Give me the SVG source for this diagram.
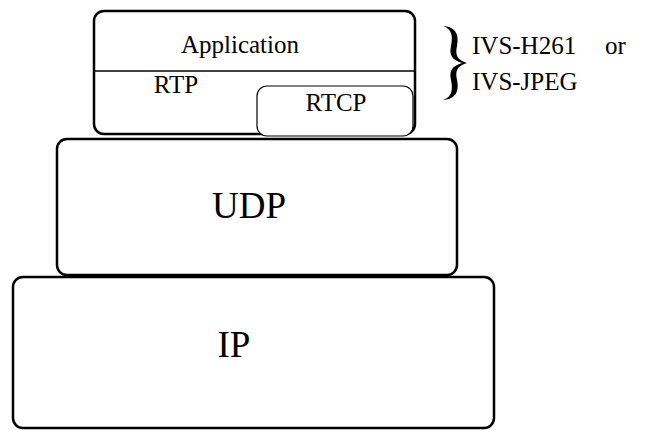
<svg xmlns="http://www.w3.org/2000/svg" width="647" height="430" viewBox="0 0 647 430" font-family="Liberation Serif">
<style>
.box{fill:#fff;stroke:#000;stroke-width:2.5}
.thin{fill:#fff;stroke:#000;stroke-width:1.2}
</style>
<rect width="647" height="430" fill="#fff"/>
<g id="ip"><rect class="box" x="13" y="277" width="481" height="151" rx="10"/><text font-family="Liberation Serif" text-anchor="middle" x="234" y="357" font-size="37">IP</text></g>
<g id="udp"><rect class="box" x="57" y="139" width="400" height="136" rx="10"/><text font-family="Liberation Serif" text-anchor="middle" x="249" y="218" font-size="37">UDP</text></g>
<g id="top"><rect class="box" x="94" y="11" width="321" height="123" rx="10"/>
<line x1="95" y1="71" x2="414" y2="71" stroke="#000" stroke-width="1.5"/>
<text font-family="Liberation Serif" text-anchor="middle" x="240" y="53" font-size="25">Application</text>
<text font-family="Liberation Serif" text-anchor="middle" x="176" y="93" font-size="25">RTP</text></g>
<g id="rtcp"><rect class="thin" x="257" y="86" width="156" height="50" rx="10"/><text font-family="Liberation Serif" text-anchor="middle" x="336" y="111" font-size="25">RTCP</text></g>
<g id="brace"><path d="M443,26 C457,27 459,36 457,46 C455,55 457,60 467,63 C457,66 455,71 457,80 C459,90 457,99 443,100 C452,97 453,90 451,80 C449,71 452,66 462,63 C452,60 449,55 451,46 C453,36 452,29 443,26 Z" fill="#000"/></g>
<text font-family="Liberation Serif" x="472" y="54" font-size="25">IVS-H261</text>
<text font-family="Liberation Serif" x="605" y="54" font-size="25">or</text>
<text font-family="Liberation Serif" x="472" y="90" font-size="25">IVS-JPEG</text>
</svg>
